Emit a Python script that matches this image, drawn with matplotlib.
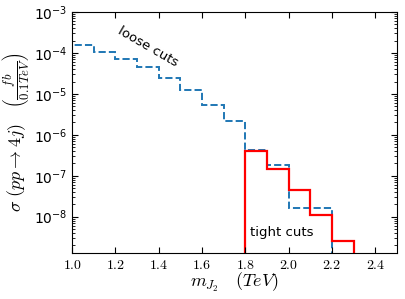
import numpy as np
import matplotlib
matplotlib.use("Agg")
import matplotlib.pyplot as plt
from matplotlib.ticker import FuncFormatter, MultipleLocator

plt.rcParams['mathtext.fontset'] = 'cm'

# bin edges in TeV (0.1 TeV bins)
loose_edges = [1.0, 1.1, 1.2, 1.3, 1.4, 1.5, 1.6, 1.7, 1.8, 1.9, 2.0, 2.1, 2.2]
loose_vals = [1.6e-4, 1.07e-4, 7.0e-5, 4.5e-5, 2.5e-5, 1.25e-5, 5.4e-6, 2.2e-6,
              4.3e-7, 1.85e-7, 1.6e-8, 1.6e-8]

tight_edges = [1.8, 1.9, 2.0, 2.1, 2.2, 2.3]
tight_vals = [4.0e-7, 1.5e-7, 4.5e-8, 1.1e-8, 2.5e-9]

fig = plt.figure(figsize=(4.05, 2.99), dpi=100)
ax = fig.add_axes([0.178, 0.154, 0.802, 0.806])

ax.stairs(loose_vals, loose_edges, baseline=1e-12, color='#1f77b4', ls='--', lw=1.4)
ax.stairs(tight_vals, tight_edges, baseline=1e-12, color='red', lw=1.6)

ax.set_yscale('log')
ax.set_xlim(1.0, 2.5)
ax.set_ylim(1.3e-9, 1e-3)
ax.xaxis.set_major_locator(MultipleLocator(0.2))
ax.xaxis.set_major_formatter(FuncFormatter(lambda v, p: r'$%.1f$' % v))
ax.tick_params(which='both', direction='in', top=True, right=True, labelsize=10)
ax.tick_params(which='major', length=4)
ax.tick_params(which='minor', length=2)

ax.text(1.35, 1.4e-4, 'loose cuts', rotation=-30, fontsize=9.5, ha='center', va='center')
ax.text(1.97, 4.2e-9, 'tight cuts', fontsize=9.5, ha='center', va='center')

ax.set_xlabel(r'$m_{J_2}\quad(TeV)$', fontsize=13, labelpad=-1)
ax.set_ylabel(r'$\sigma\ (pp \rightarrow 4j)\quad \left(\frac{fb}{0.1TeV}\right)$', fontsize=13, labelpad=2)

fig.savefig('out.png', dpi=100)
